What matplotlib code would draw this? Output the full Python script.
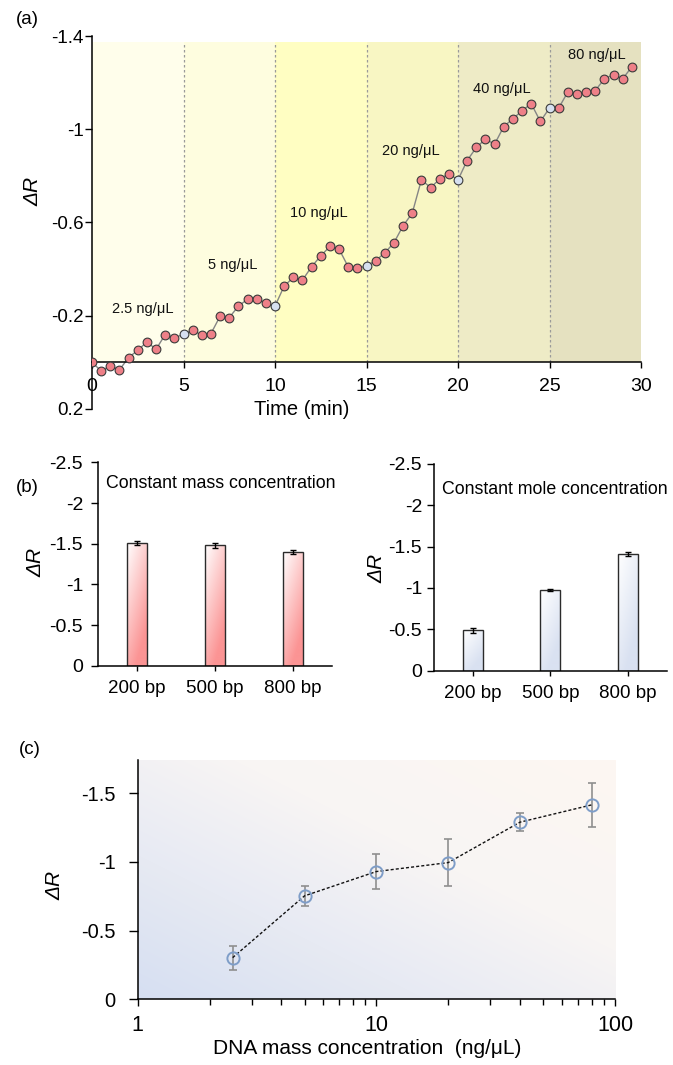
import numpy as np
import matplotlib
matplotlib.use("Agg")
import matplotlib.pyplot as plt
from matplotlib.colors import to_rgb
from matplotlib.ticker import FixedLocator, NullFormatter

plt.rcParams["font.family"] = ["Liberation Sans", "DejaVu Sans"]
plt.rcParams["axes.unicode_minus"] = False

# ---------------- data ----------------
# (a) real-time response, one reading every 0.5 min
time_min = [0, 0.5, 1, 1.5, 2, 2.5, 3, 3.5, 4, 4.5,
            5, 5.5, 6, 6.5, 7, 7.5, 8, 8.5, 9, 9.5,
            10, 10.5, 11, 11.5, 12, 12.5, 13, 13.5, 14, 14.5,
            15, 15.5, 16, 16.5, 17, 17.5, 18, 18.5, 19, 19.5,
            20, 20.5, 21, 21.5, 22, 22.5, 23, 23.5, 24, 24.5,
            25, 25.5, 26, 26.5, 27, 27.5, 28, 28.5, 29, 29.5]
delta_r = [0.000, 0.037, 0.016, 0.032, -0.020, -0.052, -0.087, -0.056, -0.119, -0.105,
           -0.120, -0.138, -0.116, -0.123, -0.198, -0.192, -0.241, -0.271, -0.271, -0.255,
           -0.241, -0.327, -0.364, -0.353, -0.410, -0.457, -0.497, -0.486, -0.410, -0.403,
           -0.414, -0.436, -0.470, -0.513, -0.586, -0.640, -0.783, -0.750, -0.786, -0.809,
           -0.783, -0.866, -0.922, -0.958, -0.936, -1.012, -1.045, -1.080, -1.110, -1.034,
           -1.091, -1.091, -1.160, -1.153, -1.158, -1.166, -1.217, -1.234, -1.217, -1.268]
injection_min = [5, 10, 15, 20, 25]
stage_edges = [0, 5, 10, 15, 20, 25, 30]
stage_labels = ["2.5 ng/μL", "5 ng/μL", "10 ng/μL", "20 ng/μL", "40 ng/μL", "80 ng/μL"]
stage_label_pos = [(2.8, -0.228), (7.7, -0.417), (12.4, -0.642),
                   (17.4, -0.905), (22.4, -1.174), (27.6, -1.320)]
stage_colors = ["#FFFEEB", "#FEFDDF", "#FFFEC2", "#F8F6C3", "#EEEBC6", "#E5E1C0"]

# (b) fragment length
fragments = ["200 bp", "500 bp", "800 bp"]
mass_vals = [-1.51, -1.48, -1.40]
mass_err = [0.03, 0.03, 0.025]
mole_vals = [-0.49, -0.975, -1.405]
mole_err = [0.03, 0.01, 0.025]

# (c) dose response
conc = [2.5, 5, 10, 20, 40, 80]
conc_vals = [-0.303, -0.752, -0.929, -0.994, -1.288, -1.414]
conc_err = [0.087, 0.073, 0.126, 0.168, 0.067, 0.160]

W, H = 673, 1065


def px(x, y):
    return x / W, 1 - y / H


def axes_px(left, top, right, bottom):
    return [left / W, 1 - bottom / H, (right - left) / W, (bottom - top) / H]


def style_spines(ax):
    for s in ("top", "right"):
        ax.spines[s].set_visible(False)
    for s in ("left", "bottom"):
        ax.spines[s].set_linewidth(1.1)
    ax.tick_params(direction="out", width=1, color="black")


def gradient_bars(ax, bars, c_light, c_dark, wu, wv):
    n = 80
    U, V = np.meshgrid(np.linspace(0, 1, n), np.linspace(0, 1, n))
    t = np.clip(wu * U + wv * (1 - V), 0, 1)[..., None]
    img = (1 - t) * np.array(to_rgb(c_light)) + t * np.array(to_rgb(c_dark))
    for b in bars:
        x0, w, h = b.get_x(), b.get_width(), b.get_height()
        im = ax.imshow(img, extent=(x0, x0 + w, 0, h), origin="lower",
                       aspect="auto", zorder=1, interpolation="bilinear")
        im.set_clip_path(b)


fig = plt.figure(figsize=(W / 100, H / 100), dpi=100)

# ---------------- (a) ----------------
ax = fig.add_axes(axes_px(92, 36.1, 641, 408.9))
for x0, x1, c in zip(stage_edges[:-1], stage_edges[1:], stage_colors):
    ax.fill_between([x0, x1], 0, -1.376, color=c, lw=0, zorder=0)
for x in injection_min:
    ax.plot([x, x], [0, -1.376], color="#9a9a9a", lw=0.9, ls=(0, (2, 2)), zorder=1)
ax.plot(time_min, delta_r, color="#858585", lw=1.0, zorder=2)
red_t = [t for t in time_min if t not in injection_min]
red_v = [v for t, v in zip(time_min, delta_r) if t not in injection_min]
blue_v = [v for t, v in zip(time_min, delta_r) if t in injection_min]
ax.plot(red_t, red_v, "o", ms=6.3, mfc="#EE8088", mec="#3a3a3a", mew=0.8, zorder=3)
ax.plot(injection_min, blue_v, "o", ms=6.3, mfc="#D6E0F0", mec="#3a3a3a", mew=0.8, zorder=3)
for lab, (x, y) in zip(stage_labels, stage_label_pos):
    ax.text(x, y, lab, ha="center", va="center", fontsize=10.5, color="#111111", zorder=4)
ax.set_xlim(0, 30)
ax.set_ylim(0.2, -1.4)
ax.spines["bottom"].set_position(("data", 0))
ax.set_xticks([0, 5, 10, 15, 20, 25, 30])
ax.set_xticklabels(["0", "5", "10", "15", "20", "25", "30"], fontsize=14)
ax.set_yticks([-1.4, -1, -0.6, -0.2, 0.2])
ax.set_yticklabels(["-1.4", "-1", "-0.6", "-0.2", "0.2"], fontsize=13.5)
ax.patch.set_alpha(0)
style_spines(ax)
ax.tick_params(axis="y", length=5, pad=1)
ax.tick_params(axis="x", length=4, pad=7)
fig.text(*px(302, 409), "Time (min)", ha="center", va="center", fontsize=14.5)
fig.text(*px(33, 191), "ΔR", ha="center", va="center", rotation=90, fontsize=15, style="italic")
fig.text(*px(27, 20), "(a)", ha="center", va="center", fontsize=13.5)

# ---------------- (b) ----------------
xb = np.arange(len(fragments))
for box, vals, err, cl, cd, wu, wv, title, tpos, ypad in [
    ((98.3, 462.5, 331.7, 665.7), mass_vals, mass_err, "#FFFFFF", "#FB9494", 0.45, 0.8,
     "Constant mass concentration", (106, 484), 6),
    ((434, 463.7, 666.5, 670.7), mole_vals, mole_err, "#FFFFFF", "#D9E1F1", 0.5, 0.8,
     "Constant mole concentration", (442, 490), 3.5),
]:
    axb = fig.add_axes(axes_px(*box))
    bars = axb.bar(xb, vals, width=0.255, facecolor="none", edgecolor="#2b2b2b", lw=1.0, zorder=2)
    gradient_bars(axb, bars, cl, cd, wu, wv)
    axb.errorbar(xb, vals, yerr=err, fmt="none", ecolor="black", elinewidth=1.0,
                 capsize=2.5, capthick=1.0, zorder=3)
    axb.set_xlim(-0.5, 2.5)
    axb.set_ylim(0, -2.5)
    axb.set_xticks(xb)
    axb.set_xticklabels(fragments, fontsize=13.5)
    axb.set_yticks([0, -0.5, -1, -1.5, -2, -2.5])
    axb.set_yticklabels(["0", "-0.5", "-1", "-1.5", "-2", "-2.5"], fontsize=14)
    style_spines(axb)
    axb.tick_params(axis="x", length=3.6, pad=7)
    axb.tick_params(axis="y", length=5, pad=ypad)
    fig.text(*px(*tpos), title, ha="left", va="center", fontsize=12.8)
fig.text(*px(36, 562), "ΔR", ha="center", va="center", rotation=90, fontsize=15, style="italic")
fig.text(*px(377, 568), "ΔR", ha="center", va="center", rotation=90, fontsize=15, style="italic")
fig.text(*px(27, 488), "(b)", ha="center", va="center", fontsize=13.5)

# ---------------- (c) ----------------
axc = fig.add_axes(axes_px(137.7, 760, 615, 999.3))
axc.set_xscale("log")
n = 200
U, V = np.meshgrid(np.linspace(0, 1, n), np.linspace(0, 1, n))
d = np.clip((U + V) / 2 / 0.6, 0, 1)[..., None]
blue = np.array(to_rgb("#D6DFF2"))
mid = np.array(to_rgb("#F8F5F4"))
peach = np.array(to_rgb("#FDF7F2"))
d2 = np.clip((U + V) / 2, 0, 1)[..., None]
bg = np.where(d < 1, (1 - d) * blue + d * mid, mid + (peach - mid) * np.clip((d2 - 0.6) / 0.4, 0, 1))
axc.imshow(bg, extent=(0, 1, 0, 0.995), transform=axc.transAxes, origin="lower",
           aspect="auto", zorder=0, interpolation="bilinear")
axc.errorbar(conc, conc_vals, yerr=conc_err, fmt="none", ecolor="#8f8f8f",
             elinewidth=1.2, capsize=3, capthick=1.2, zorder=2)
axc.plot(conc, conc_vals, color="#111111", lw=1.0, ls=(0, (2.2, 1.5)), zorder=3)
axc.plot(conc, conc_vals, "o", ms=8.8, mfc="none", mec="#7E9DC8", mew=1.4, zorder=4)
axc.set_xlim(1, 100)
axc.set_ylim(0, -1.74)
axc.set_xticks([1, 10, 100])
axc.set_xticklabels(["1", "10", "100"], fontsize=15.5)
axc.xaxis.set_minor_locator(FixedLocator([2, 3, 4, 5, 6, 7, 8, 9, 20, 30, 40, 50, 60, 70, 80, 90]))
axc.xaxis.set_minor_formatter(NullFormatter())
axc.set_yticks([0, -0.5, -1, -1.5])
axc.set_yticklabels(["0", "-0.5", "-1", "-1.5"], fontsize=14.5)
style_spines(axc)
axc.tick_params(axis="y", length=6.5, pad=9.5)
axc.tick_params(axis="x", which="major", length=5, pad=6)
axc.tick_params(axis="x", which="minor", length=4.2, width=1)
fig.text(*px(367, 1048), "DNA mass concentration  (ng/μL)", ha="center", va="center", fontsize=15)
fig.text(*px(55, 885), "ΔR", ha="center", va="center", rotation=90, fontsize=15, style="italic")
fig.text(*px(30, 750), "(c)", ha="center", va="center", fontsize=13.5)

fig.savefig("out.png", dpi=100, facecolor="white")
